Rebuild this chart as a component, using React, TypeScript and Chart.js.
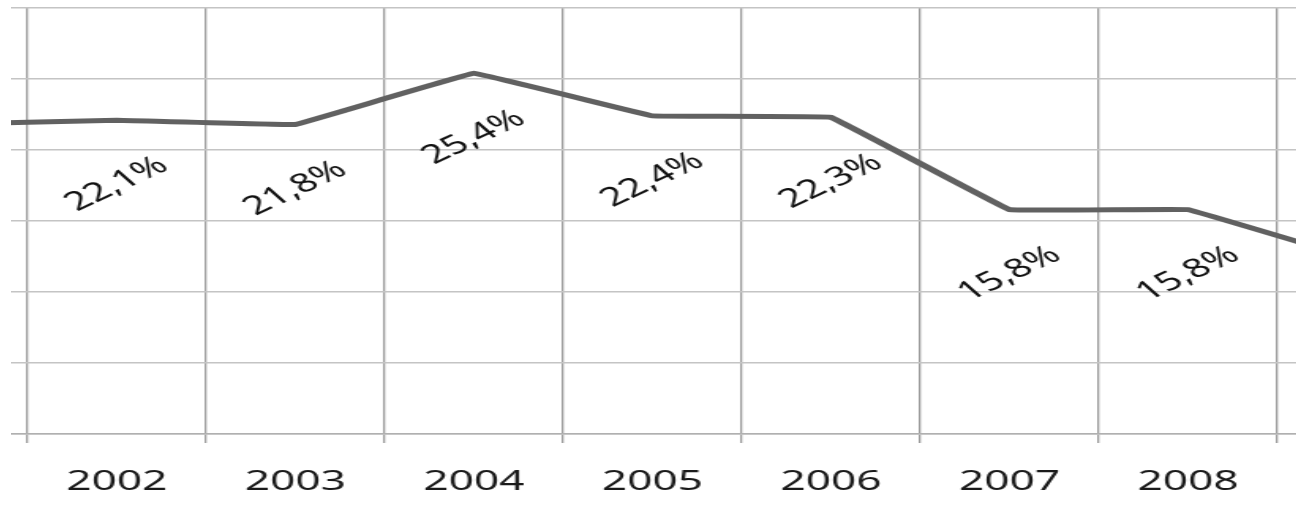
import React, { useEffect, useRef } from "react";
import { Chart, registerables } from "chart.js";

Chart.register(...registerables);

// Data (the visible window shows 2002-2008; the line continues to neighbouring years)
const years: string[] = ["2001", "2002", "2003", "2004", "2005", "2006", "2007", "2008", "2009"];
const shares: number[] = [21.8, 22.1, 21.8, 25.4, 22.4, 22.3, 15.8, 15.8, 12.1];
const yTicks: number[] = [0, 5, 10, 15, 20, 25, 30];

// Layout (screen pixels)
const STRETCH = 1.58;
const CAT_W = 178.57;
const FIRST_BOUNDARY = 28;
const CLIP_LEFT = 11;
const HEIGHT = 521;
const AREA_TOP = 8;
const AREA_BOTTOM = 434;

const canvasW = Math.round((years.length * CAT_W) / STRETCH);

const labelPlugin = {
  id: "rotatedValueLabels",
  afterDatasetsDraw(chart: any) {
    const ctx = chart.ctx as CanvasRenderingContext2D;
    const meta = chart.getDatasetMeta(0);
    const data = chart.data.datasets[0].data as number[];
    ctx.save();
    ctx.font = "26px 'Noto Sans'";
    ctx.fillStyle = "#111111";
    ctx.textAlign = "center";
    ctx.textBaseline = "middle";
    meta.data.forEach((pt: any, i: number) => {
      const txt = data[i].toFixed(1).replace(".", ",") + "%";
      ctx.save();
      ctx.translate(pt.x, pt.y + 64);
      ctx.rotate((-36 * Math.PI) / 180);
      ctx.fillText(txt, 0, 0);
      ctx.restore();
    });
    ctx.restore();
  },
};

export default function App() {
  const ref = useRef<HTMLCanvasElement | null>(null);

  useEffect(() => {
    const canvas = ref.current;
    if (!canvas) return;
    const chart = new Chart(canvas, {
      type: "line",
      data: {
        labels: years,
        datasets: [
          {
            data: shares,
            borderColor: "#616161",
            borderWidth: 5,
            pointRadius: 0,
            tension: 0.03,
            fill: false,
          },
        ],
      },
      options: {
        animation: false,
        responsive: false,
        devicePixelRatio: 1,
        layout: { padding: { top: AREA_TOP, left: 0, right: 0, bottom: 0 } },
        plugins: { legend: { display: false }, tooltip: { enabled: false } },
        scales: {
          x: {
            type: "category",
            offset: true,
            grid: {
              offset: true,
              color: "#9c9c9c",
              lineWidth: 1.3,
              tickLength: 9,
            },
            border: { display: true, color: "#b0b0b0", width: 1.5 },
            ticks: {
              color: "#1a1a1a",
              font: { family: "'Noto Sans'", size: 28 },
              padding: 22,
              maxRotation: 0,
              autoSkip: false,
            },
            afterFit(scale: any) {
              scale.height = HEIGHT - AREA_BOTTOM;
            },
          },
          y: {
            min: yTicks[0],
            max: yTicks[yTicks.length - 1],
            afterBuildTicks(scale: any) {
              scale.ticks = yTicks.map((v) => ({ value: v }));
            },
            ticks: { display: false },
            grid: { color: "#c4c4c4", lineWidth: 1.5, drawTicks: false },
            border: { display: false },
            afterFit(scale: any) {
              scale.width = 0;
            },
          },
        },
      },
      plugins: [labelPlugin],
    });
    return () => chart.destroy();
  }, []);

  return (
    <div
      style={{
        position: "fixed",
        left: CLIP_LEFT,
        top: 0,
        width: 1296 - CLIP_LEFT,
        height: HEIGHT,
        overflow: "hidden",
        background: "#ffffff",
      }}
    >
      <canvas
        ref={ref}
        width={canvasW}
        height={HEIGHT}
        style={{
          position: "absolute",
          top: 0,
          left: FIRST_BOUNDARY - CAT_W - CLIP_LEFT,
          width: canvasW,
          height: HEIGHT,
          transform: `scaleX(${STRETCH})`,
          transformOrigin: "0 0",
        }}
      />
    </div>
  );
}
